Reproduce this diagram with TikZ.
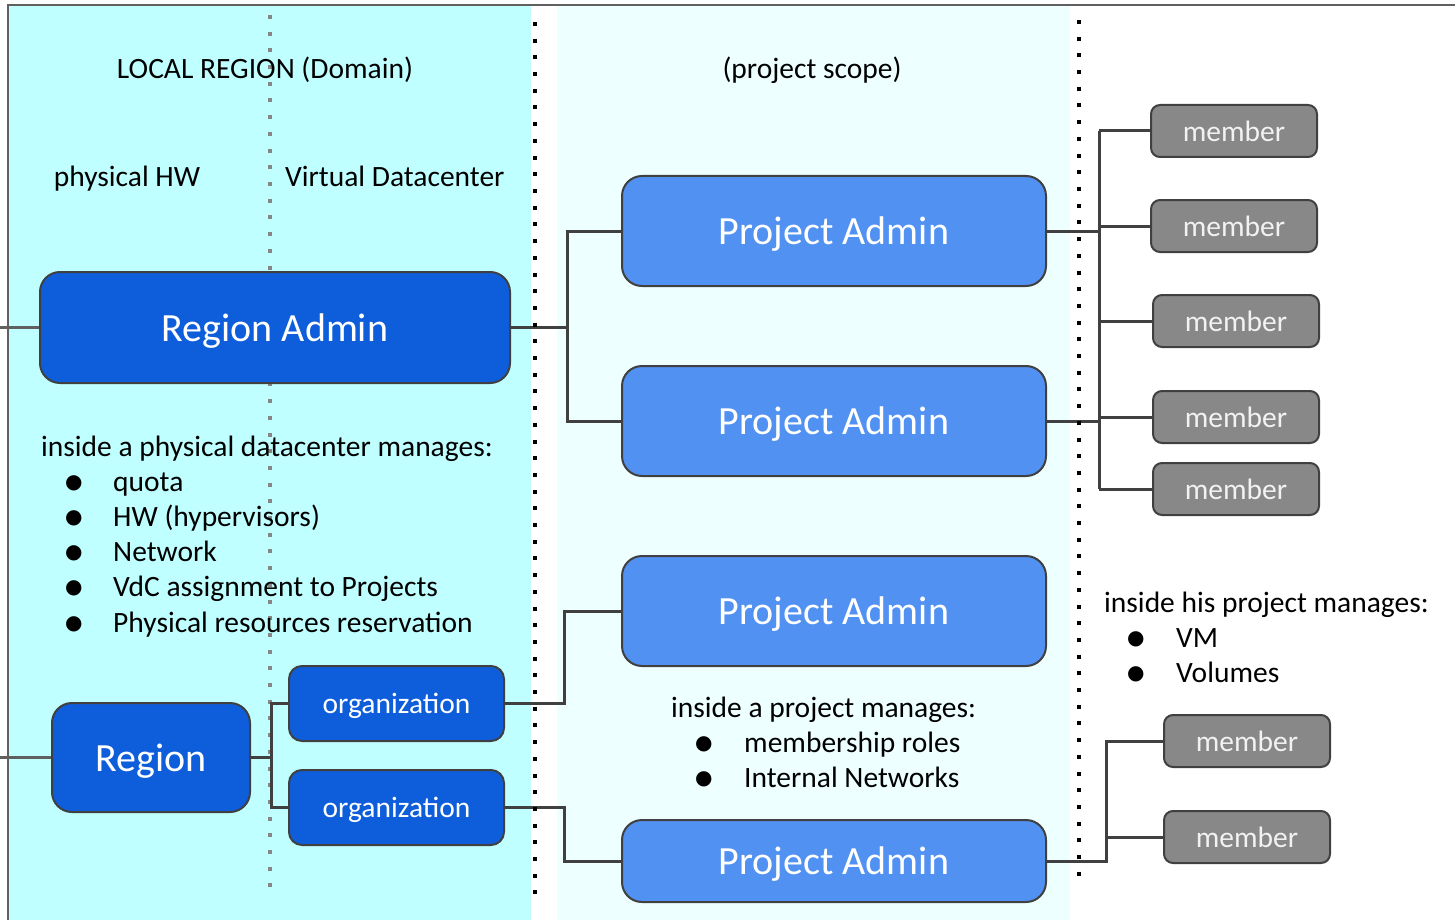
\documentclass[tikz,border=0pt]{standalone}
\usepackage{fontspec}
\setmainfont{Carlito}
\newfontfamily\dotfont{DejaVu Sans}
\newcommand\bodyfont{\fontsize{29.5}{35}\selectfont}
\newcommand\bigfont{\fontsize{40}{40}\selectfont}
\newcommand\bul{{\dotfont\fontsize{20}{20}\selectfont ●}}
\definecolor{cyanbg}{HTML}{C0FFFF}
\definecolor{palecyan}{HTML}{EEFFFF}
\definecolor{regblue}{HTML}{0E5EDC}
\definecolor{projblue}{HTML}{5191F2}
\definecolor{memgray}{HTML}{888888}
\definecolor{edgegray}{HTML}{404040}
\definecolor{framegray}{HTML}{606060}

\begin{document}
\begin{tikzpicture}[x=1pt,y=-1pt,
  box/.style={draw=edgegray,line width=2pt,rounded corners=20pt,text=white,inner sep=0pt,text depth=0pt},
  regbox/.style={box,fill=regblue,font=\bigfont},
  projbox/.style={box,fill=projblue,minimum width=424pt,minimum height=110pt,font=\bigfont},
  orgbox/.style={box,fill=regblue,rounded corners=13pt,minimum width=215pt,minimum height=75pt,font=\bodyfont},
  membox/.style={box,fill=memgray,rounded corners=9pt,minimum width=166pt,minimum height=52pt,font=\bodyfont,text=white!95!black},
  link/.style={draw=edgegray,line width=3pt},
  stub/.style={draw=framegray,line width=2.5pt},
  txt/.style={inner sep=0pt,font=\bodyfont},
  blackdots/.style={line width=4pt,dash pattern=on 4pt off 12.7pt},
  graydots/.style={blackdots,draw=gray!95}]
  \useasboundingbox (0,0) rectangle (1455,920);
  % backgrounds and frame
  \fill[cyanbg] (8,5) rectangle (531,920);
  \fill[palecyan] (557,6) rectangle (1070,920);
  \draw[framegray,line width=2pt] (8,920) -- (8,5) -- (1455,5);
  \draw[graydots] (270,15) -- (270,900);

  % headings
  \node[txt,anchor=base] (hdrlocal) at (265,79) {LOCAL REGION (Domain)};
  \node[txt,anchor=base] (hdrproj) at (812,79) {(project scope)};
  \node[txt,anchor=base] (lblhw) at (127,186) {physical HW};
  \node[txt,anchor=base west] (lblvdc) at (285,186) {Virtual Datacenter};

  % lists
  \node[txt,anchor=base west] (dchead) at (41,456) {inside a physical datacenter manages:};
  \foreach \t [count=\i] in {quota,HW (hypervisors),Network,VdC assignment to Projects,Physical resources reservation}{
    \node[txt,anchor=base west] (dcbul\i) at (65,453+35.2*\i) {\bul};
    \node[txt,anchor=base west] (dcitem\i) at (113,456+35.2*\i) {\t};
  }
  \node[txt,anchor=base west] (prhead) at (671,717) {inside a project manages:};
  \foreach \t [count=\i] in {membership roles,Internal Networks}{
    \node[txt,anchor=base west] (prbul\i) at (695,714+35*\i) {\bul};
    \node[txt,anchor=base west] (pritem\i) at (744,717+35*\i) {\t};
  }
  \node[txt,anchor=base west] (hishead) at (1104,612) {inside his project manages:};
  \foreach \t [count=\i] in {VM,Volumes}{
    \node[txt,anchor=base west] (hisbul\i) at (1127,609+35*\i) {\bul};
    \node[txt,anchor=base west] (hisitem\i) at (1176,612+35*\i) {\t};
  }

  % boxes
  \node[regbox,minimum width=470pt,minimum height=111pt] (radmin) at (275,327.5) {Region Admin};
  \node[regbox,minimum width=198pt,minimum height=109pt] (region) at (151,757.5) {Region};
  \node[orgbox] (org1) at (396.5,703.5) {organization};
  \node[orgbox] (org2) at (396.5,807.5) {organization};
  \node[projbox] (pa1) at (834,231) {Project Admin};
  \node[projbox] (pa2) at (834,421) {Project Admin};
  \node[projbox] (pa3) at (834,611) {Project Admin};
  \node[projbox,minimum height=82pt] (pa4) at (834,861) {Project Admin};
  \node[membox] (m1) at (1234,131) {member};
  \node[membox] (m2) at (1234,226) {member};
  \node[membox] (m3) at (1236,321) {member};
  \node[membox] (m4) at (1236,417) {member};
  \node[membox] (m5) at (1236,489) {member};
  \node[membox] (m6) at (1247,741) {member};
  \node[membox] (m7) at (1247,837) {member};

  % connectors
  \coordinate (lin1) at (0,327.5);
  \coordinate (lin2) at (0,757.5);
  \draw[stub] (lin1) -- (radmin.west);
  \draw[stub] (lin2) -- (region.west);
  \draw[link] (radmin.east) -- ++(56,0) coordinate (rj) |- (pa1.west);
  \draw[link] (rj) |- (pa2.west);
  \draw[link] (pa1.east) -- ++(52,0) coordinate (mj);
  \draw[link] (mj |- m1.west) -- (mj |- m5.west);
  \foreach \m in {m1,m2,m3,m4,m5} \draw[link] (mj |- \m.west) -- (\m.west);
  \draw[link] (pa2.east) -- (mj |- pa2.east);
  \draw[link] (region.east) -- ++(20,0) coordinate (oj) |- (org1.west);
  \draw[link] (oj) |- (org2.west);
  \draw[link] (org1.east) -- ++(59,0) |- (pa3.west);
  \draw[link] (org2.east) -- ++(59,0) |- (pa4.west);
  \draw[link] (pa4.east) -- ++(59,0) coordinate (bj) |- (m6.west);
  \draw[link] (bj) |- (m7.west);

  % scope borders
  \draw[blackdots] (535,22) -- (535,905);
  \draw[blackdots] (1079,20) -- (1079,880);
\end{tikzpicture}
\end{document}
